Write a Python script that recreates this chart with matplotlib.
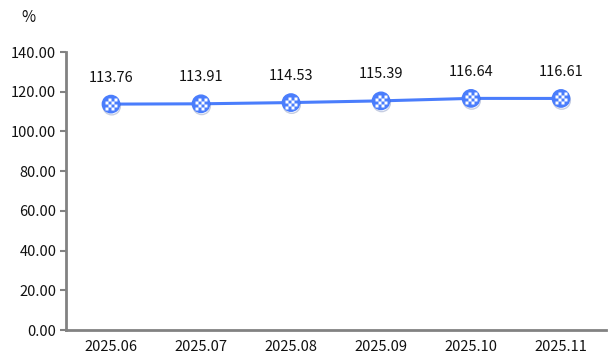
import matplotlib.pyplot as plt
from matplotlib.path import Path
import matplotlib.patheffects as pe

plt.rcParams['font.family'] = ['Noto Sans CJK SC', 'DejaVu Sans']

# data
months = ['2025.06', '2025.07', '2025.08', '2025.09', '2025.10', '2025.11']
values = [113.76, 113.91, 114.53, 115.39, 116.64, 116.61]
y_ticks = [0, 20, 40, 60, 80, 100, 120, 140]

blue = '#4a7dfc'
axis_gray = '#828282'
text_col = '#111111'

# checkerboard marker for the inside of the dots
verts, codes = [], []
n = 4
for i in range(n):
    for j in range(n):
        if (i + j) % 2 == 1:
            continue
        x0, y0 = i / n - 0.5, j / n - 0.5
        s = 1 / n
        verts += [(x0, y0), (x0 + s, y0), (x0 + s, y0 + s), (x0, y0 + s), (x0, y0)]
        codes += [Path.MOVETO, Path.LINETO, Path.LINETO, Path.LINETO, Path.CLOSEPOLY]
checker = Path(verts, codes)

fig = plt.figure(figsize=(6.16, 3.64), dpi=100)
ax = fig.add_axes([66 / 616, 34 / 364, 540 / 616, 278 / 364])

x = list(range(len(months)))
ax.plot(x, values, color=blue, linewidth=2.2, zorder=2)
ax.plot(x, values, linestyle='none', marker='o', markersize=12.5,
        markerfacecolor=blue, markeredgecolor=blue, zorder=3,
        path_effects=[pe.SimpleLineShadow(offset=(0.5, -1.5), shadow_color='#1c3a8a', alpha=0.25),
                      pe.Normal()])
ax.plot(x, values, linestyle='none', marker=checker, markersize=8,
        markerfacecolor='white', markeredgecolor='none', zorder=4)

for xi, v in zip(x, values):
    ax.annotate(f'{v:.2f}', (xi, v), xytext=(0, 14), textcoords='offset points',
                ha='center', va='bottom', fontsize=10.5, color=text_col)

ax.set_xlim(-0.5, len(months) - 0.5)
ax.set_ylim(0, 140)
ax.set_xticks(x)
ax.set_xticklabels(months)
ax.set_yticks(y_ticks)
ax.set_yticklabels([f'{t:.2f}' for t in y_ticks])

for side in ['top', 'right']:
    ax.spines[side].set_visible(False)
for side in ['left', 'bottom']:
    ax.spines[side].set_color(axis_gray)
    ax.spines[side].set_linewidth(2)

ax.tick_params(axis='y', length=4, width=1.5, color=axis_gray, labelsize=10.5, labelcolor=text_col, pad=3)
ax.tick_params(axis='x', length=0, labelsize=10.5, labelcolor=text_col, pad=7)

fig.text(28 / 616, 1 - 18 / 364, '%', ha='center', va='center', fontsize=11, color=text_col)

fig.savefig('out.png', dpi=100)
